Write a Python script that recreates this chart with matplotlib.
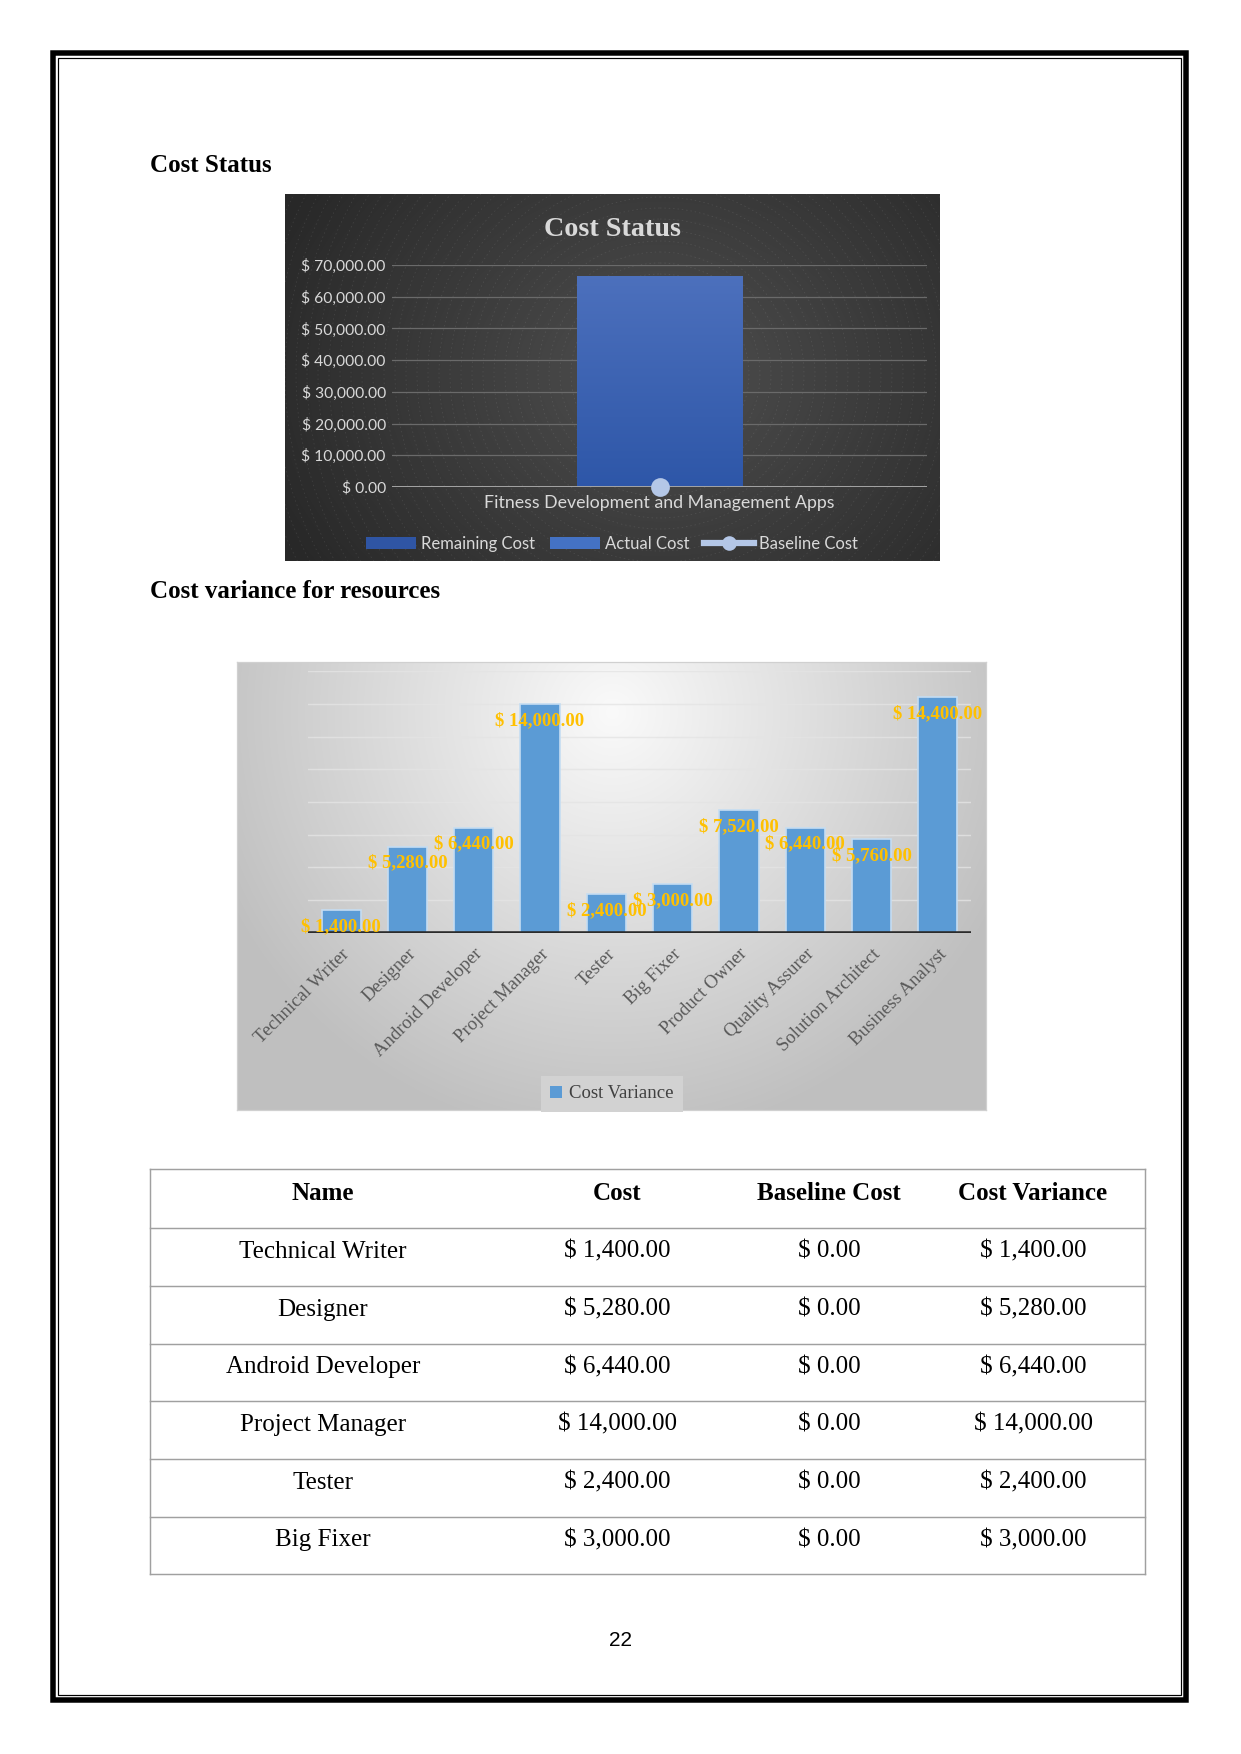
import numpy as np
import matplotlib
matplotlib.use('Agg')
import matplotlib.pyplot as plt
from matplotlib.patches import Rectangle, Circle, Patch
from matplotlib.lines import Line2D

#------------------------------------------------------------------------------
# DATA

# Cost status chart (one project)
project_name = ['Fitness Development and Management Apps']
remaining_cost = [0.0]
actual_cost = [66640.0]
baseline_cost = [0.0]
status_ticks = [0, 10000, 20000, 30000, 40000, 50000, 60000, 70000]

# Cost variance per resource
roles = ['Technical Writer', 'Designer', 'Android Developer', 'Project Manager',
         'Tester', 'Big Fixer', 'Product Owner', 'Quality Assurer',
         'Solution Architect', 'Business Analyst']
role_cost = [1400, 5280, 6440, 14000, 2400, 3000, 7520, 6440, 5760, 14400]
role_baseline = [0, 0, 0, 0, 0, 0, 0, 0, 0, 0]
cost_variance = [1400, 5280, 6440, 14000, 2400, 3000, 7520, 6440, 5760, 14400]

# Table (only the rows that fit on this page)
table_header = ['Name', 'Cost', 'Baseline Cost', 'Cost Variance']
table_rows = 6

#------------------------------------------------------------------------------
# PAGE SET UP (pixel coordinates, y down)

W, H = 1241, 1754
DPI = 150
SERIF = 'Liberation Serif'
SANS = 'Lato'

def money(v):
    return '$ {:,.2f}'.format(v)

def rect(x0, y0, x1, y1):
    return [x0 / W, 1 - y1 / H, (x1 - x0) / W, (y1 - y0) / H]

def px2pt(p):
    return p * 72.0 / DPI

fig = plt.figure(figsize=(W / DPI, H / DPI), dpi=DPI)
fig.patch.set_facecolor('white')

page = fig.add_axes([0, 0, 1, 1])
page.set_xlim(0, W)
page.set_ylim(H, 0)
page.axis('off')

# page border: thick outer + thin inner
page.add_patch(Rectangle((52.5, 52.5), 1186 - 52.5, 1700 - 52.5, fill=False,
                         lw=px2pt(5.5), edgecolor='black'))
page.add_patch(Rectangle((57.5, 57.5), 1181 - 57.5, 1695 - 57.5, fill=False,
                         lw=px2pt(1.2), edgecolor='black'))

# headings
page.text(150, 165, 'Cost Status', fontfamily=SERIF, fontweight='bold',
          fontsize=12, va='center', ha='left')
page.text(150, 591, 'Cost variance for resources', fontfamily=SERIF,
          fontweight='bold', fontsize=12, va='center', ha='left')

#------------------------------------------------------------------------------
# CHART 1 - COST STATUS (dark style)

c1 = (285, 194, 940, 561)
bg1 = fig.add_axes(rect(*c1))
bw, bh = c1[2] - c1[0], c1[3] - c1[1]
yy, xx = np.mgrid[0:bh, 0:bw]
cx, cy = 375, 180
r = np.sqrt(((xx - cx) / 420.0) ** 2 + ((yy - cy) / 330.0) ** 2)
val = 0.31 - 0.15 * np.clip(r, 0, 1)
bg1.imshow(np.dstack([val, val, val]), extent=[0, bw, bh, 0], aspect='auto',
           interpolation='bilinear')
# faint concentric dotted rings of the chart style
for rad in np.arange(12, 520, 11):
    bg1.add_patch(Circle((cx, cy), rad, fill=False, edgecolor='white',
                         lw=0.35, alpha=0.10, linestyle=(0, (2, 4))))
bg1.set_xlim(0, bw)
bg1.set_ylim(bh, 0)
bg1.axis('off')

ax1 = fig.add_axes(rect(392, 265, 927, 487))
ax1.patch.set_alpha(0)
x1 = np.arange(len(project_name))
bars1 = ax1.bar(x1, actual_cost, width=0.31, color='#3c63b4', zorder=3)
ax1.bar(x1, remaining_cost, width=0.31, bottom=actual_cost, color='#2f55a4', zorder=3)
# vertical shading of the bar (lighter top, deeper blue at the base)
grad = np.linspace(0, 1, 100).reshape(-1, 1)
top_c = np.array([0.30, 0.44, 0.74])
bot_c = np.array([0.18, 0.34, 0.66])
shade = (top_c * (1 - grad) + bot_c * grad).reshape(100, 1, 3)
for b in bars1:
    im = ax1.imshow(shade, extent=[b.get_x(), b.get_x() + b.get_width(), 0,
                                   b.get_height()], aspect='auto', zorder=3.5)
    im.set_clip_path(b)
ax1.plot(x1, baseline_cost, color='#b4c7e7', lw=3, marker='o', ms=8,
         zorder=6, clip_on=False)
ax1.set_xlim(-0.5, 0.5)
ax1.set_ylim(0, 70000)
ax1.set_yticks(status_ticks)
ax1.set_yticklabels([money(v) for v in status_ticks], fontfamily=SANS)
ax1.set_xticks(x1)
ax1.set_xticklabels(project_name, fontfamily=SANS)
ax1.tick_params(axis='y', length=0, colors='#d9d9d9', labelsize=7.5, pad=3)
ax1.tick_params(axis='x', length=0, colors='#d9d9d9', labelsize=8.5, pad=4)
ax1.yaxis.grid(True, color='#6a6a6a', lw=0.6, zorder=0)
for s in ax1.spines.values():
    s.set_visible(False)
ax1.axhline(0, color='#a6a6a6', lw=1.4, zorder=4)

fig.text(613 / W, 1 - 229 / H, 'Cost Status', fontfamily=SERIF, fontweight='bold',
         fontsize=13.5, color='#d9d9d9', ha='center', va='center')

h1 = [Patch(facecolor='#2f55a4'), Patch(facecolor='#4472c4'),
      Line2D([0], [0], color='#b4c7e7', lw=3, marker='o', ms=6)]
fig.legend(h1, ['Remaining Cost', 'Actual Cost', 'Baseline Cost'], loc='center',
           bbox_to_anchor=(612 / W, 1 - 544 / H), ncol=3, frameon=False,
           handlelength=3.0, handleheight=0.75, columnspacing=0.9,
           handletextpad=0.3, prop={'family': SANS, 'size': 8},
           labelcolor='#d9d9d9')

#------------------------------------------------------------------------------
# CHART 2 - COST VARIANCE FOR RESOURCES (light style)

c2 = (237, 662, 986, 1110)
bg2 = fig.add_axes(rect(*c2))
bw2, bh2 = c2[2] - c2[0], c2[3] - c2[1]
yy, xx = np.mgrid[0:bh2, 0:bw2]
r2 = np.sqrt(((xx - 375) / 430.0) ** 2 + ((yy - 50) / 430.0) ** 2)
val2 = 0.98 - 0.23 * np.clip(r2, 0, 1)
bg2.imshow(np.dstack([val2, val2, val2]), extent=[0, bw2, bh2, 0], aspect='auto',
           interpolation='bilinear')
bg2.set_xlim(0, bw2)
bg2.set_ylim(bh2, 0)
bg2.set_xticks([])
bg2.set_yticks([])
for s in bg2.spines.values():
    s.set_color('#d0d0d0')
    s.set_linewidth(0.6)

ax2 = fig.add_axes(rect(308, 671, 971, 933))
ax2.patch.set_alpha(0)
x2 = np.arange(len(roles))
ax2.bar(x2, cost_variance, width=0.59, color='#5b9bd5', edgecolor='#c5ddf2',
        linewidth=0.8, zorder=3)
ax2.set_xlim(-0.5, len(roles) - 0.5)
ax2.set_ylim(0, 16000)
ax2.set_yticks(np.arange(0, 16001, 2000))
ax2.yaxis.grid(True, color='#e4e4e4', lw=0.7, alpha=0.8, zorder=0)
ax2.tick_params(axis='y', length=0, labelleft=False)
ax2.set_xticks(x2)
ax2.set_xticklabels(roles, rotation=45, ha='right', rotation_mode='anchor',
                    fontfamily=SERIF, fontsize=9, color='#595959')
ax2.tick_params(axis='x', length=0, pad=6)
for s in ax2.spines.values():
    s.set_visible(False)
ax2.axhline(0, color='#2b2b2b', lw=2.2, zorder=4)
for i, v in enumerate(cost_variance):
    ax2.annotate(money(v), (x2[i], v), xytext=(0, -8), textcoords='offset points',
                 ha='center', va='center', color='#ffc000', fontweight='bold',
                 fontfamily=SERIF, fontsize=9, zorder=6)

fig.legend([Patch(facecolor='#5b9bd5')], ['Cost Variance'], loc='center',
           bbox_to_anchor=(612 / W, 1 - 1094 / H), frameon=True,
           fancybox=False, facecolor='#d2d2d2', edgecolor='none',
           framealpha=1, handlelength=0.6, handleheight=0.6,
           handletextpad=0.4, borderpad=0.5,
           prop={'family': SERIF, 'size': 9}, labelcolor='#404040')

#------------------------------------------------------------------------------
# TABLE

row_lines = [1169, 1228, 1286, 1344, 1401, 1459, 1517, 1574]
col_x = [323, 617, 829, 1033]
tx0, tx1 = 150, 1145
for yl in row_lines:
    page.plot([tx0, tx1], [yl, yl], color='#a0a0a0', lw=0.7)
page.plot([tx0, tx0], [row_lines[0], row_lines[-1]], color='#a0a0a0', lw=0.7)
page.plot([tx1, tx1], [row_lines[0], row_lines[-1]], color='#a0a0a0', lw=0.7)

def row_y(k):
    return row_lines[k] + 0.41 * (row_lines[k + 1] - row_lines[k])

for j, htxt in enumerate(table_header):
    page.text(col_x[j], row_y(0), htxt, fontfamily=SERIF, fontweight='bold',
              fontsize=12, ha='center', va='center')

for k in range(table_rows):
    cells = [roles[k], money(role_cost[k]), money(role_baseline[k]),
             money(role_cost[k] - role_baseline[k])]
    for j, ctxt in enumerate(cells):
        page.text(col_x[j], row_y(k + 1), ctxt, fontfamily=SERIF, fontsize=12,
                  ha='center', va='center')

# page number
page.text(620, 1640, '22', fontfamily='Liberation Sans', fontsize=10,
          ha='center', va='center')

fig.savefig('out.png', dpi=DPI)
